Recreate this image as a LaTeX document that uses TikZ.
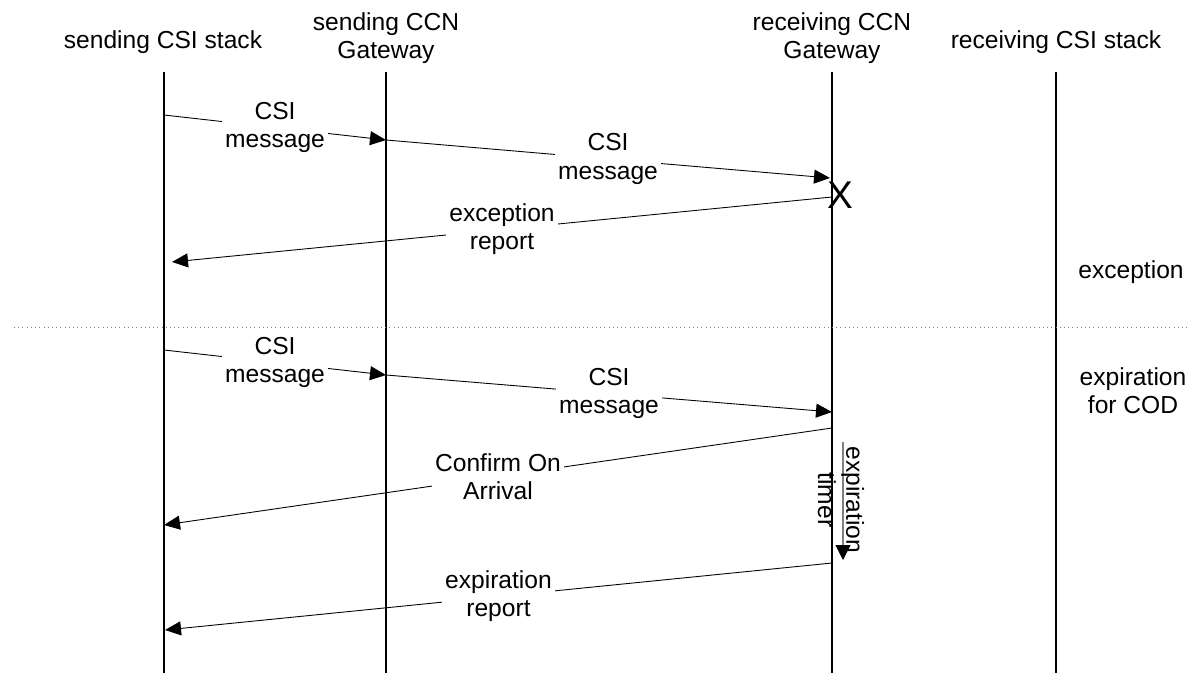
\documentclass[tikz,border=0pt]{standalone}
\usepackage{fontspec}
\setmainfont{Liberation Sans}
\usetikzlibrary{arrows.meta,positioning}
\tikzset{
  lifeline/.style={line width=0.6pt},
  msg/.style={->,line width=0.5pt},
  lbl/.style={fill=white,align=center,inner sep=2pt,font=\fontsize{14}{16}\selectfont},
  head/.style={align=center,font=\fontsize{14}{16}\selectfont},
}

\begin{document}
\begin{tikzpicture}[
  x=0.02cm,y=-0.02cm,
  >={Triangle[length=0.32cm,width=0.28cm]}
]
\useasboundingbox (0,0) rectangle (1190,673);

\node[head] (ss) at (163,42) {sending CSI stack};
\node[head] (sg) at (386,38) {sending CCN\\Gateway};
\node[head] (rg) at (832,38) {receiving CCN\\Gateway};
\node[head] (rs) at (1056,42) {receiving CSI stack};

\foreach \n/\x in {ss/164,sg/386,rg/832,rs/1056} {
  \coordinate (\n top) at (\x,72);
  \coordinate (\n bot) at (\x,673);
  \draw[lifeline] (\n top) -- (\n bot);
}

\coordinate (a1) at (164,115);
\coordinate (a2) at (386,140);
\coordinate (a3) at (830,178);
\coordinate (a4) at (832,197);
\coordinate (a5) at (172,262);

\coordinate (b1) at (164,350);
\coordinate (b2) at (386,375);
\coordinate (b3) at (832,412);
\coordinate (b4) at (832,428);
\coordinate (b5) at (164,525);
\coordinate (b6) at (832,563);
\coordinate (b7) at (165,630);

\coordinate (t1) at (843,442);
\coordinate (t2) at (843,560);

\coordinate (sepL) at (14,327);
\coordinate (sepR) at (1190,327);

\node[font=\fontsize{22}{24}\selectfont,inner sep=0pt] (cut) at (840,195) {X};

\path[msg]
(a1) edge node[lbl] {CSI\\message} (a2)
(a2) edge node[lbl] {CSI\\message} (a3)
(a4) edge node[lbl] {exception\\report} (a5)

(b1) edge node[lbl] {CSI\\message} (b2)
(b2) edge node[lbl] {CSI\\message} (b3)
(b4) edge node[lbl] {Confirm On\\Arrival} (b5)
(b6) edge node[lbl] {expiration\\report} (b7);

\draw[gray,line width=0.6pt,-{Triangle[length=0.3cm,width=0.3cm,color=black]}] (t1) -- (t2);
\node[head,rotate=-90] (tmr) at (841,500) {expiration\\timer};

\draw[dotted,gray] (sepL) -- (sepR);

\node[head] (exc) at (1131,272) {exception};
\node[head] (cod) at (1133,391) {expiration\\for COD};

\end{tikzpicture}
\end{document}
